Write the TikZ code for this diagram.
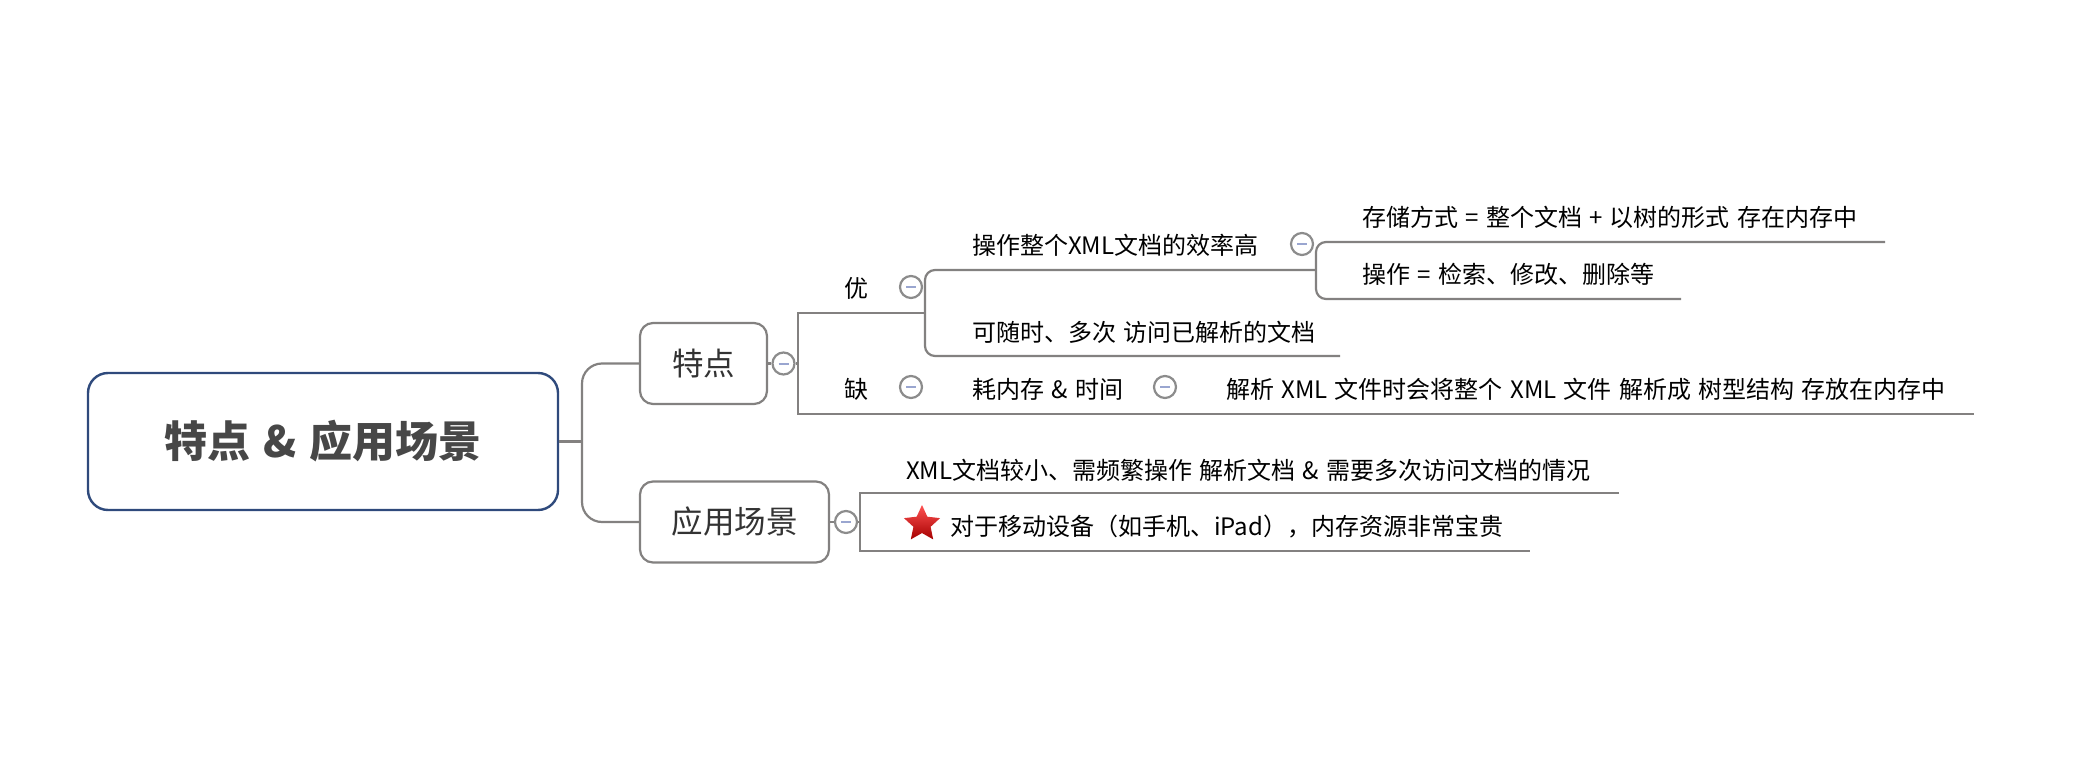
\documentclass[tikz,border=0pt]{standalone}
\usepackage{fontspec}
\usetikzlibrary{shapes.geometric}
\setmainfont{Noto Sans CJK SC}
\newfontfamily\cjk[WordSpace=1.35]{Noto Sans CJK SC}
\definecolor{rootblue}{HTML}{2F4A7C}
\definecolor{branchgray}{HTML}{838180}
\definecolor{foldgray}{HTML}{8C8C8C}
\definecolor{foldminus}{HTML}{9AA6D0}
\tikzset{
  rootbox/.style={draw=rootblue,line width=2.4pt,rounded corners=20pt,fill=white,minimum width=470pt,minimum height=137pt,inner sep=0pt,text=black!72,font=\cjk\fontsize{43}{50}\selectfont\bfseries},
  topicbox/.style={draw=branchgray,line width=2.2pt,rounded corners=13pt,fill=white,minimum height=81pt,inner sep=0pt,text=black!80,font=\cjk\fontsize{31.5}{36}\selectfont},
  leaf/.style={anchor=west,inner sep=0pt,text=black,font=\cjk\fontsize{24}{28}\selectfont},
  fold/.style={circle,draw=foldgray,line width=2.2pt,fill=white,minimum size=22pt,inner sep=0pt,
    path picture={\draw[foldminus,line width=2pt] ([xshift=-5pt]path picture bounding box.center) -- ([xshift=5pt]path picture bounding box.center);}},
  branch/.style={draw=branchgray,line width=2.2pt},
}
\begin{document}
\begin{tikzpicture}[x=1pt,y=-1pt]
\useasboundingbox (0,0) rectangle (2076,778);

% central topic and its two main branches
\node[rootbox] (root) at (323,441.5) {\raisebox{-2pt}{特点 \& 应用场景}};
\node[topicbox,minimum width=127pt] (feat) at (703.5,363.5) {特点};
\node[topicbox,minimum width=189pt] (use) at (734.5,522) {应用场景};
\coordinate (trunk) at (582,441.5);
\draw[branch] (root.east) -- (trunk);
\draw[branch,rounded corners=20pt] (feat.west) -| (trunk) |- (use.west);

% fold markers
\node[fold] (ffeat) at (783.5,363.5) {};
\node[fold] (fuse) at (846,522) {};
\node[fold] (fgood) at (911,287) {};
\node[fold] (fbad) at (911,387) {};
\node[fold] (fmem) at (1165,387) {};
\node[fold] (feff) at (1302,244) {};
\draw[branch] (feat.east) -- (ffeat.west);
\draw[branch] (use.east) -- (fuse.west);

% labels
\node[leaf,anchor=center] (good) at (856,288) {优};
\node[leaf,anchor=center] (bad) at (856,389) {缺};
\node[leaf] (eff) at (972,245) {操作整个XML文档的效率高};
\node[leaf] (any) at (972,332) {可随时、多次 访问已解析的文档};
\node[leaf] (mem) at (972,389) {耗内存 \& 时间};
\node[leaf] (parse) at (1226,389) {解析 XML 文件时会将整个 XML 文件 解析成 树型结构 存放在内存中};
\node[leaf] (store) at (1362,217) {存储方式 = 整个文档 + 以树的形式 存在内存中};
\node[leaf] (ops) at (1362,274) {操作 = 检索、修改、删除等};
\node[leaf] (small) at (906,470) {XML文档较小、需频繁操作 解析文档 \& 需要多次访问文档的情况};
\node[leaf] (mobile) at (950,527) {对于移动设备（如手机、iPad），内存资源非常宝贵};
\node[star,star points=5,star point ratio=2.1,minimum size=38pt,inner sep=0pt,top color=red!68!white,bottom color=red!65!black,draw=none] (mark) at (922,524) {};

% bracket of the first level under 特点
\coordinate (fbus) at (798,363.5);
\coordinate (goodend) at (925,313);
\coordinate (badend) at (1974,414);
\draw[branch] (ffeat.east) -- (fbus);
\draw[branch] (goodend) -| (fbus) |- (badend);

% bracket under 优
\coordinate (gbus) at (925,313);
\coordinate (effend) at (1316,270);
\coordinate (anyend) at (1340,356);
\draw[branch,rounded corners=10pt] (effend) -| (gbus) |- (anyend);

% bracket under the efficiency item
\coordinate (ebus) at (1316,270);
\coordinate (storeend) at (1885,242);
\coordinate (opsend) at (1681,299);
\draw[branch,rounded corners=10pt] (storeend) -| (ebus) |- (opsend);

% bracket under 应用场景
\coordinate (ubus) at (860,522);
\coordinate (smallend) at (1619,493);
\coordinate (mobileend) at (1530,551);
\draw[branch] (fuse.east) -- (ubus);
\draw[branch] (smallend) -| (ubus) |- (mobileend);
\end{tikzpicture}
\end{document}
